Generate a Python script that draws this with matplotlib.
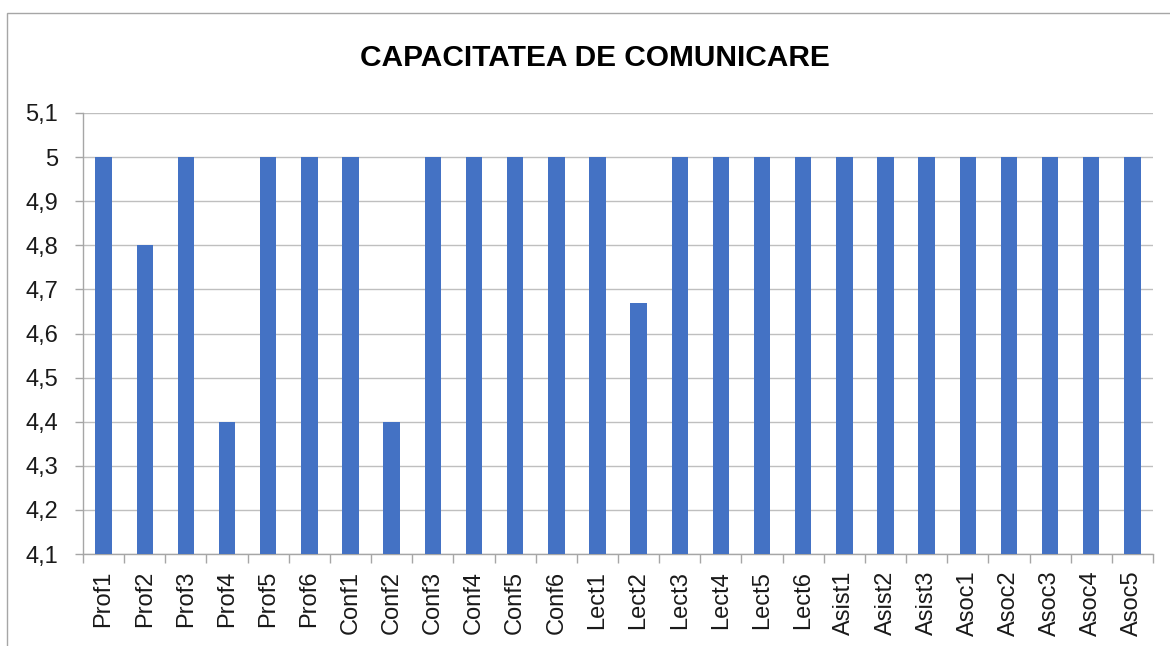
import matplotlib.pyplot as plt
from matplotlib.patches import Rectangle
from matplotlib.ticker import FixedLocator, FuncFormatter

categories = ['Prof1', 'Prof2', 'Prof3', 'Prof4', 'Prof5', 'Prof6',
              'Conf1', 'Conf2', 'Conf3', 'Conf4', 'Conf5', 'Conf6',
              'Lect1', 'Lect2', 'Lect3', 'Lect4', 'Lect5', 'Lect6',
              'Asist1', 'Asist2', 'Asist3',
              'Asoc1', 'Asoc2', 'Asoc3', 'Asoc4', 'Asoc5']
scores = [5, 4.8, 5, 4.4, 5, 5,
          5, 4.4, 5, 5, 5, 5,
          5, 4.67, 5, 5, 5, 5,
          5, 5, 5,
          5, 5, 5, 5, 5]
y_ticks = [4.1, 4.2, 4.3, 4.4, 4.5, 4.6, 4.7, 4.8, 4.9, 5.0, 5.1]

plt.rcParams['font.family'] = ['Liberation Sans', 'DejaVu Sans']

W, H = 1170, 646
fig = plt.figure(figsize=(W / 100, H / 100), dpi=100)

# chart border (runs off the right and bottom edges in the reference)
fig.patches.append(Rectangle((7 / W, -0.1), 1.2, 1 - 13 / H + 0.1,
                             transform=fig.transFigure, fill=False,
                             edgecolor='#a6a6a6', linewidth=1))

ax = fig.add_axes([83 / W, 1 - 554 / H, (1153 - 83) / W, (554 - 113) / H])

x = list(range(len(categories)))
ax.bar(x, [s - 4.1 for s in scores], bottom=4.1, width=0.4,
       color='#4472C4', zorder=3)

ax.set_xlim(-0.5, len(categories) - 0.5)
ax.set_ylim(4.1, 5.1)
ax.yaxis.set_major_locator(FixedLocator(y_ticks))
ax.yaxis.set_major_formatter(FuncFormatter(
    lambda v, p: ('%g' % round(v, 2)).replace('.', ',')))
ax.grid(axis='y', color='#bfbfbf', linewidth=1, zorder=0)

ax.set_xticks(x)
ax.set_xticklabels(categories, rotation=90, fontsize=17, color='#1a1a1a')
ax.xaxis.set_minor_locator(FixedLocator([i - 0.5 for i in range(len(categories) + 1)]))
ax.tick_params(axis='x', which='major', length=0, pad=12)
ax.tick_params(axis='x', which='minor', length=6.5, color='#a6a6a6', width=1)
ax.tick_params(axis='y', length=6, color='#a6a6a6', width=1, labelsize=17,
               labelcolor='#1a1a1a', pad=12)

for side in ['top', 'right']:
    ax.spines[side].set_visible(False)
for side in ['left', 'bottom']:
    ax.spines[side].set_color('#a6a6a6')
    ax.spines[side].set_linewidth(1)

fig.text(595 / W, 1 - 58 / H, 'CAPACITATEA DE COMUNICARE',
         ha='center', va='center', fontsize=21.5, fontweight='bold')

fig.savefig('out.png', dpi=100)
